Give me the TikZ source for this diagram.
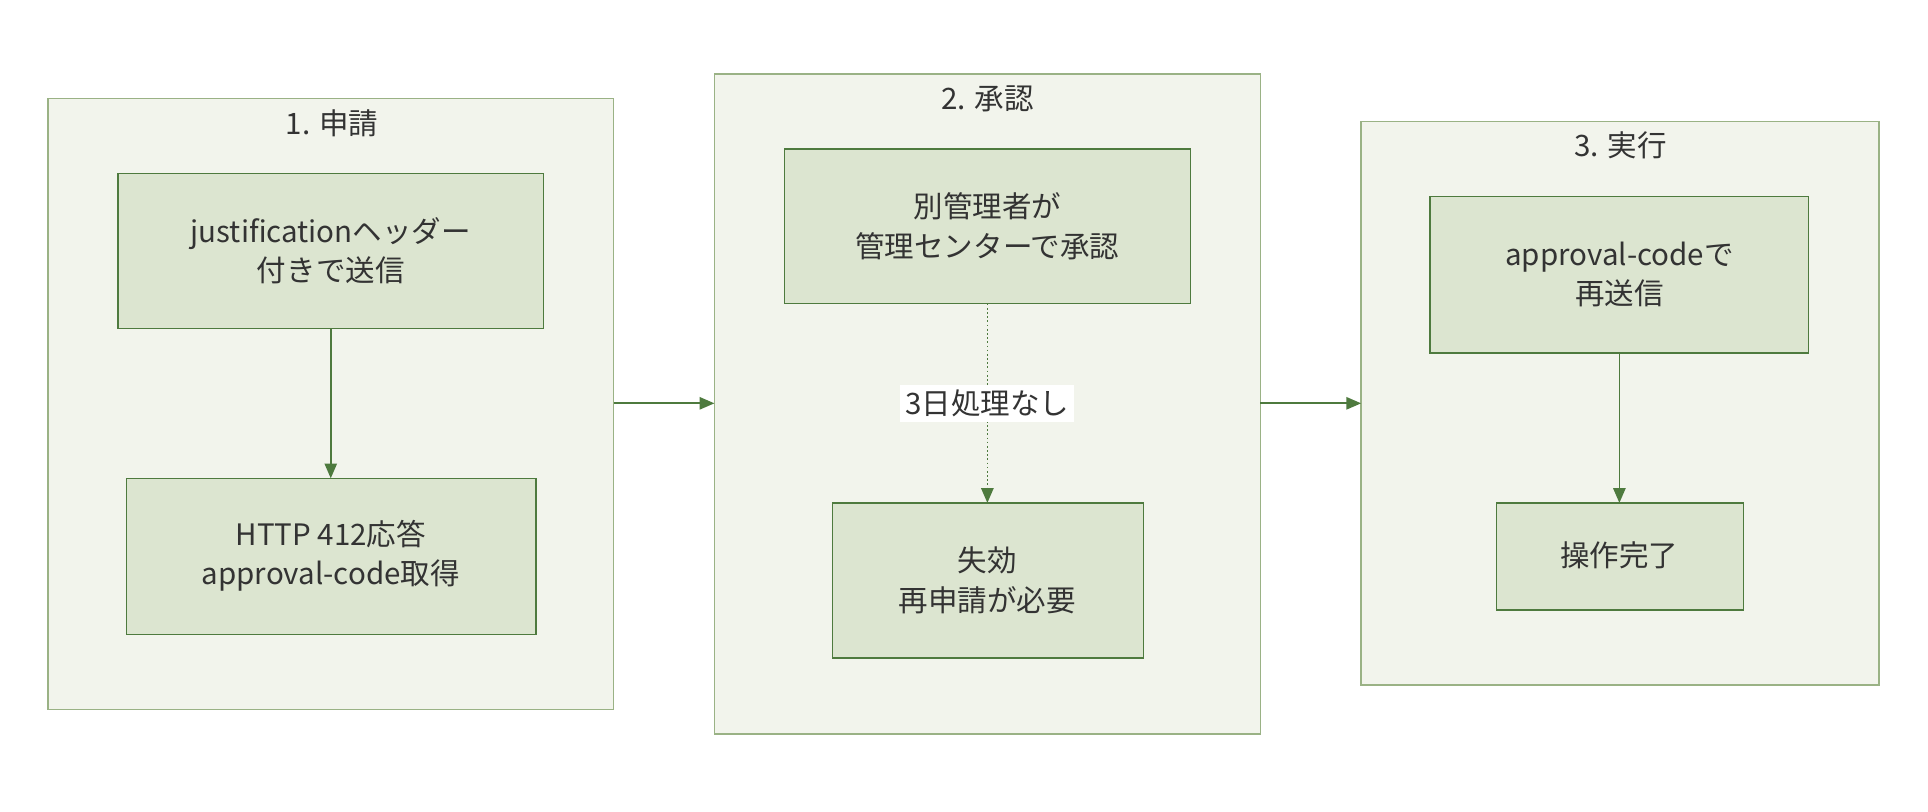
\documentclass[tikz,border=0pt]{standalone}
\usepackage{fontspec}
\setmainfont{Noto Sans CJK JP}
\usetikzlibrary{arrows.meta}
\definecolor{clfill}{HTML}{F2F4EC}
\definecolor{cldraw}{HTML}{9AB285}
\definecolor{bxfill}{HTML}{DCE5D0}
\definecolor{bxdraw}{HTML}{4E7A3E}
\definecolor{txt}{HTML}{333333}
\begin{document}
\begin{tikzpicture}[x=0.5pt,y=-0.5pt,
  cl/.style={draw=cldraw,fill=clfill,line width=0.6pt},
  bx/.style={draw=bxdraw,fill=bxfill,line width=0.6pt},
  tt/.style={text=txt,font=\fontsize{12}{16}\selectfont,align=center},
  ar/.style={draw=bxdraw,line width=0.7pt,-{Triangle[length=6pt,width=5pt]}}]
\useasboundingbox (0,0) rectangle (1568,660);
\fill[white] (0,0) rectangle (1568,660);
% clusters
\draw[cl] (39,80) rectangle (499,577); \coordinate (c1) at (269,328);
\draw[cl] (581,60) rectangle (1025,597);
\draw[cl] (1107,99) rectangle (1528,557);
\node[tt] (t1) at (270,100) {1. 申請};
\node[tt] (t2) at (803,80) {2. 承認};
\node[tt] (t3) at (1318,118) {3. 実行};
% boxes
\draw[bx] (96,141) rectangle (442,267); \node[tt] (a) at (269,204) {justificationヘッダー\\付きで送信};
\draw[bx] (103,389) rectangle (436,516); \node[tt] (b) at (269,452) {HTTP 412応答\\approval-code取得};
\draw[bx] (638,121) rectangle (968,247); \node[tt] (c) at (803,184) {別管理者が\\管理センターで承認};
\draw[bx] (677,409) rectangle (930,535); \node[tt] (d) at (803,472) {失効\\再申請が必要};
\draw[bx] (1163,160) rectangle (1471,287); \node[tt] (e) at (1317,223) {approval-codeで\\再送信};
\draw[bx] (1217,409) rectangle (1418,496); \node[tt] (f) at (1317,452) {操作完了};
\coordinate (aB) at (269,267); \coordinate (bT) at (269,389);
\coordinate (cB) at (803,247); \coordinate (dT) at (803,409);
\coordinate (eB) at (1317,287); \coordinate (fT) at (1317,409);
\coordinate (r1) at (499,328); \coordinate (l2) at (581,328);
\coordinate (r2) at (1025,328); \coordinate (l3) at (1107,328);
\draw[ar] (aB) -- (bT);
\draw[ar] (eB) -- (fT);
\draw[ar,densely dotted] (cB) -- (dT) node[midway,fill=white,tt,inner sep=2pt] {3日処理なし};
\draw[ar] (r1) -- (l2);
\draw[ar] (r2) -- (l3);
\end{tikzpicture}
\end{document}
